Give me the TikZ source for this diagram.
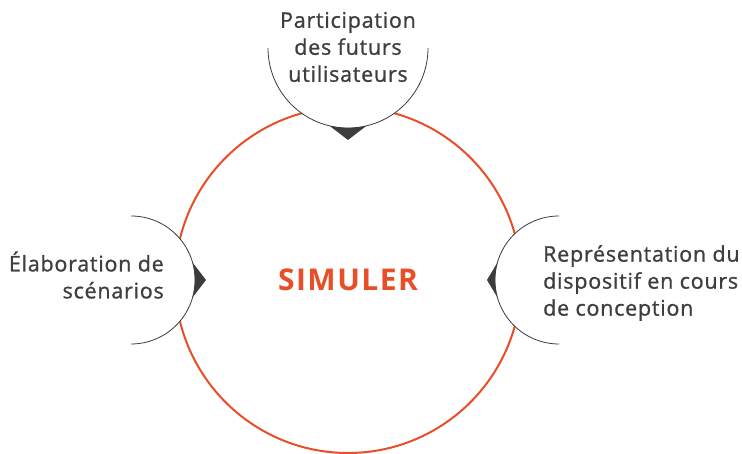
\documentclass[tikz,border=0pt]{standalone}
\usepackage{fontspec}
\setmainfont{Open Sans}
\definecolor{accent}{HTML}{E84E27}
\definecolor{ink}{HTML}{3C3C3C}
\definecolor{txt}{HTML}{3E3E3E}
\begin{document}
\begin{tikzpicture}[x=1pt,y=1pt,
  ring/.style={draw=accent,line width=2pt,circle,minimum size=346pt,inner sep=0pt,
    text=accent,font=\fontsize{30}{34}\selectfont\bfseries\addfontfeature{LetterSpace=5}},
  capshape/.style={draw=ink,line width=0.8pt,fill=white},
  pointer/.style={fill=ink},
  lbl/.style={text=txt,inner sep=0pt,font=\fontsize{21.5}{27}\selectfont\addfontfeature{FakeBold=1,LetterSpace=3.5}}]
\useasboundingbox (0,0) rectangle (742,454);
% main circle
\node[ring] (sim) at (348,174) {SIMULER};
% top cap
\coordinate (tc) at (348,406);
\filldraw[capshape] ([shift={(180:80)}]tc) arc[start angle=180,end angle=360,radius=80];
\fill[pointer] ([shift={(256.7:80)}]tc) arc[start angle=256.7,end angle=283.3,radius=80] -- ([yshift=-92]tc) coordinate (ttip) -- cycle;
% left cap
\coordinate (lc) at (131,174);
\filldraw[capshape] ([shift={(90:64)}]lc) arc[start angle=90,end angle=-90,radius=64];
\fill[pointer] ([shift={(15.9:64)}]lc) arc[start angle=15.9,end angle=-15.9,radius=64] -- ([xshift=75]lc) coordinate (ltip) -- cycle;
% right cap
\coordinate (rc) at (559,174);
\filldraw[capshape] ([shift={(90:64)}]rc) arc[start angle=90,end angle=270,radius=64];
\fill[pointer] ([shift={(164.1:64)}]rc) arc[start angle=164.1,end angle=195.9,radius=64] -- ([xshift=-72]rc) coordinate (rtip) -- cycle;
% labels
\node[lbl,align=center] (top) at (348,407) {Participation\\des futurs\\utilisateurs};
\node[lbl,align=right,anchor=east] (left) at (164,179) {Élaboration de\\scénarios};
\node[lbl,align=left,anchor=west] (right) at (543,171) {Représentation du\\dispositif en cours\\de conception};
\end{tikzpicture}
\end{document}
